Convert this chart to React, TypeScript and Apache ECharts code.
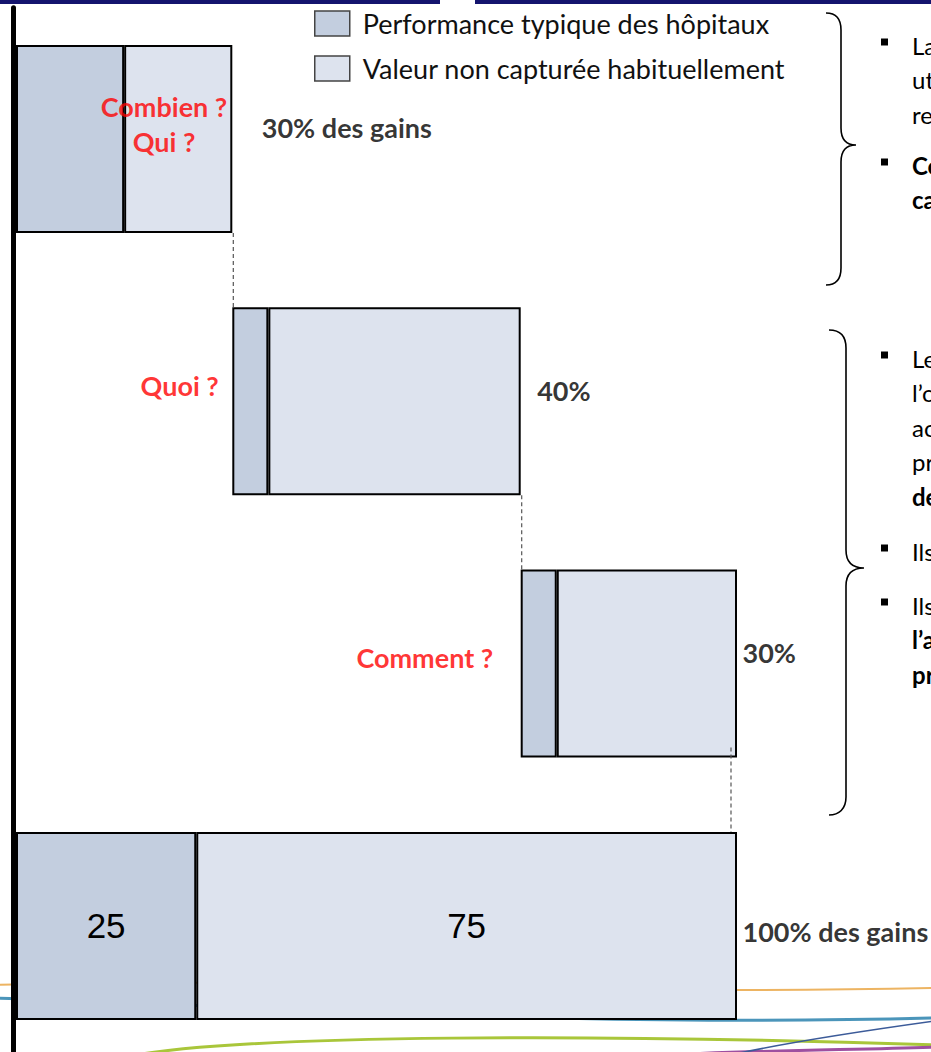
import React, { useEffect, useRef } from "react";
import * as echarts from "echarts";

// ---- data ----
const categories = ["Combien ? Qui ?", "Quoi ?", "Comment ?", "Total"];
const offsets = [0, 30, 70, 0];
const typicalPerformance = [15, 5, 5, 25];
const uncapturedValue = [15, 35, 25, 75];
const gainLabels = ["30% des gains", "40%", "30%", "100% des gains"];
const questionLabels = ["Combien ?\nQui ?", "Quoi ?", "Comment ?", ""];
const seriesNames = ["Performance typique des hôpitaux", "Valeur non capturée habituellement"];

const bulletGroups = [
  { y: 42, lines: [["La", false], ["ut", false], ["re", false]] },
  { y: 162, lines: [["Co", true], ["ca", true]] },
  { y: 355, lines: [["Le", false], ["l’o", false], ["ac", false], ["pr", false], ["de", true]] },
  { y: 548, lines: [["Ils", false]] },
  { y: 602, lines: [["Ils", false], ["l’a", true], ["pr", true]] },
];

// ---- style ----
const FONT = "Lato, 'Open Sans', sans-serif";
const NARROW = "'Liberation Sans Narrow', 'Arial Narrow', 'Liberation Sans', sans-serif";
const DARK = "#C3CEDF";
const LIGHT = "#DDE3EE";
const BAR_WIDTH = 188;

const brace1 =
  "M826,13 C836,13 841,18 841,30 L841,128 C841,140 846,145 856,145 C846,145 841,150 841,162 L841,268 C841,280 836,285 826,285";
const brace2 =
  "M829,330 C839,330 846,335 846,348 L846,550 C846,562 852,568 864,568 C852,568 846,574 846,586 L846,797 C846,809 839,815 829,815";
echarts.graphic.registerShape("brace1", echarts.graphic.extendPath(brace1, {}));
echarts.graphic.registerShape("brace2", echarts.graphic.extendPath(brace2, {}));

export default function App() {
  const ref = useRef<HTMLDivElement>(null);
  useEffect(() => {
    if (!ref.current) return;
    const chart = echarts.init(ref.current, null, { renderer: "svg" });
    const ends = offsets.map((o, i) => o + typicalPerformance[i] + uncapturedValue[i]);

    const gainLabelStyle = [
      { distance: 29, offset: [0, -11] },
      { distance: 16, offset: [0, -11] },
      { distance: 5, offset: [0, -11] },
      { distance: 5, offset: [0, 6] },
    ];
    const questionStyle = [
      { position: "inside", offset: [148, -15], align: "center" },
      { position: "left", distance: 13, offset: [0, -16] },
      { position: "left", distance: 27, offset: [0, -6] },
      { position: "left", distance: 5, offset: [0, 0] },
    ];
    const connectorShift = [0, 0, -7];
    const connectorInset = [0, 0, 10];

    const graphicEls: any[] = [
      { type: "rect", shape: { x: 0, y: 0, width: 440, height: 4 }, style: { fill: "#14146E" }, silent: true },
      { type: "rect", shape: { x: 475, y: 0, width: 456, height: 4 }, style: { fill: "#14146E" }, silent: true },
      { type: "brace1", style: { fill: "none", stroke: "#000", lineWidth: 1.6 }, silent: true },
      { type: "brace2", style: { fill: "none", stroke: "#000", lineWidth: 1.6 }, silent: true },
      // decorative swooshes at the bottom
      { type: "bezierCurve", shape: { x1: -10, y1: 985, cpx1: 300, cpy1: 976, cpx2: 600, cpy2: 996, x2: 935, y2: 988 }, style: { stroke: "#EDB462", lineWidth: 2, fill: "none" }, silent: true },
      { type: "bezierCurve", shape: { x1: -10, y1: 998, cpx1: 300, cpy1: 1008, cpx2: 600, cpy2: 1027, x2: 935, y2: 1018 }, style: { stroke: "#4B95BA", lineWidth: 3, fill: "none" }, silent: true },
      { type: "bezierCurve", shape: { x1: 130, y1: 1056, cpx1: 250, cpy1: 1034, cpx2: 600, cpy2: 1034, x2: 935, y2: 1045 }, style: { stroke: "#A9C63A", lineWidth: 3, fill: "none" }, silent: true },
      { type: "bezierCurve", shape: { x1: 650, y1: 1056, cpx1: 750, cpy1: 1050, cpx2: 850, cpy2: 1050, x2: 935, y2: 1047 }, style: { stroke: "#9E4FA0", lineWidth: 3, fill: "none" }, silent: true },
      { type: "bezierCurve", shape: { x1: 735, y1: 1054, cpx1: 800, cpy1: 1040, cpx2: 870, cpy2: 1030, x2: 935, y2: 1021 }, style: { stroke: "#3C5B99", lineWidth: 1.5, fill: "none" }, silent: true },
    ];
    bulletGroups.forEach((g) => {
      graphicEls.push({ type: "rect", shape: { x: 881, y: g.y - 3.5, width: 7, height: 7 }, style: { fill: "#000" }, silent: true });
      g.lines.forEach((ln, k) => {
        graphicEls.push({
          type: "text",
          x: 912,
          y: g.y + 3 + k * 34.5,
          style: {
            text: ln[0] as string,
            font: `${ln[1] ? "bold " : ""}24px ${FONT}`,
            fill: "#000",
            verticalAlign: "middle",
            align: "left",
          },
          silent: true,
        });
      });
    });

    chart.setOption({
      animation: false,
      backgroundColor: "#fff",
      grid: { left: 16, top: 7.8, width: 721, height: 1049.3, containLabel: false },
      xAxis: { type: "value", min: 0, max: 100, show: false },
      yAxis: {
        type: "category",
        data: categories,
        inverse: true,
        offset: 2.5,
        axisLine: { show: true, onZero: false, lineStyle: { color: "#000", width: 5 } },
        axisTick: { show: false },
        axisLabel: { show: false },
        splitLine: { show: false },
      },
      legend: {
        data: seriesNames,
        orient: "vertical",
        left: 314,
        top: 10,
        itemWidth: 35,
        itemHeight: 25,
        itemGap: 18,
        padding: 0,
        icon: "rect",
        itemStyle: { borderColor: "#444", borderWidth: 1.5 },
        textStyle: { fontFamily: FONT, fontSize: 27, color: "#111", padding: [0, 0, 0, 8] },
      },
      graphic: { elements: graphicEls },
      series: [
        {
          type: "bar",
          name: "offset",
          stack: "s",
          barWidth: BAR_WIDTH,
          silent: true,
          itemStyle: { color: "transparent" },
          data: offsets,
        },
        {
          type: "bar",
          name: seriesNames[0],
          stack: "s",
          barWidth: BAR_WIDTH,
          itemStyle: { color: DARK, borderColor: "#000", borderWidth: 2 },
          data: typicalPerformance.map((v, i) =>
            i === 3
              ? { value: v, label: { show: true, position: "inside", formatter: "{c}", fontFamily: NARROW, fontSize: 35, color: "#000" } }
              : v
          ),
        },
        {
          type: "bar",
          name: seriesNames[1],
          stack: "s",
          barWidth: BAR_WIDTH,
          itemStyle: { color: LIGHT, borderColor: "#000", borderWidth: 2 },
          data: uncapturedValue.map((v, i) =>
            i === 3
              ? { value: v, label: { show: true, position: "inside", formatter: "{c}", fontFamily: NARROW, fontSize: 35, color: "#000" } }
              : v
          ),
        },
        {
          type: "custom",
          name: "connectors",
          silent: true,
          z: 4,
          renderItem: (params: any, api: any) => {
            const x = api.value(0);
            const from = api.value(1);
            const to = api.value(2);
            const i = params.dataIndex;
            const p1 = api.coord([x, from]);
            const p2 = api.coord([x, to]);
            const half = BAR_WIDTH / 2;
            return {
              type: "line",
              shape: {
                x1: p1[0] + connectorShift[i] + 1,
                y1: p1[1] + half - connectorInset[i],
                x2: p2[0] + connectorShift[i] + 1,
                y2: p2[1] - half,
              },
              style: { stroke: "#555", lineWidth: 1.2, lineDash: [4, 3] },
            };
          },
          data: ends.slice(0, 3).map((e, i) => [e, i, i + 1]),
        },
        {
          type: "scatter",
          name: "gains",
          silent: true,
          z: 5,
          symbolSize: 1,
          itemStyle: { color: "transparent" },
          data: ends.map((e, i) => ({
            value: [e, i],
            label: {
              show: true,
              position: "right",
              formatter: gainLabels[i],
              fontFamily: FONT,
              fontWeight: "bold",
              fontSize: 27,
              color: "#000",
              ...gainLabelStyle[i],
            },
          })),
        },
        {
          type: "scatter",
          name: "questions",
          silent: true,
          z: 5,
          symbolSize: 1,
          itemStyle: { color: "transparent" },
          data: offsets.map((o, i) => ({
            value: [o, i],
            label: {
              show: questionLabels[i] !== "",
              formatter: questionLabels[i],
              fontFamily: FONT,
              fontWeight: "bold",
              fontSize: 27,
              lineHeight: 35,
              color: "#FF0000",
              ...questionStyle[i],
            },
          })),
        },
      ],
    });
    return () => chart.dispose();
  }, []);
  return (
    <div
      ref={ref}
      style={{ position: "absolute", left: 0, top: 0, width: 931, height: 1060, background: "#fff" }}
    />
  );
}
